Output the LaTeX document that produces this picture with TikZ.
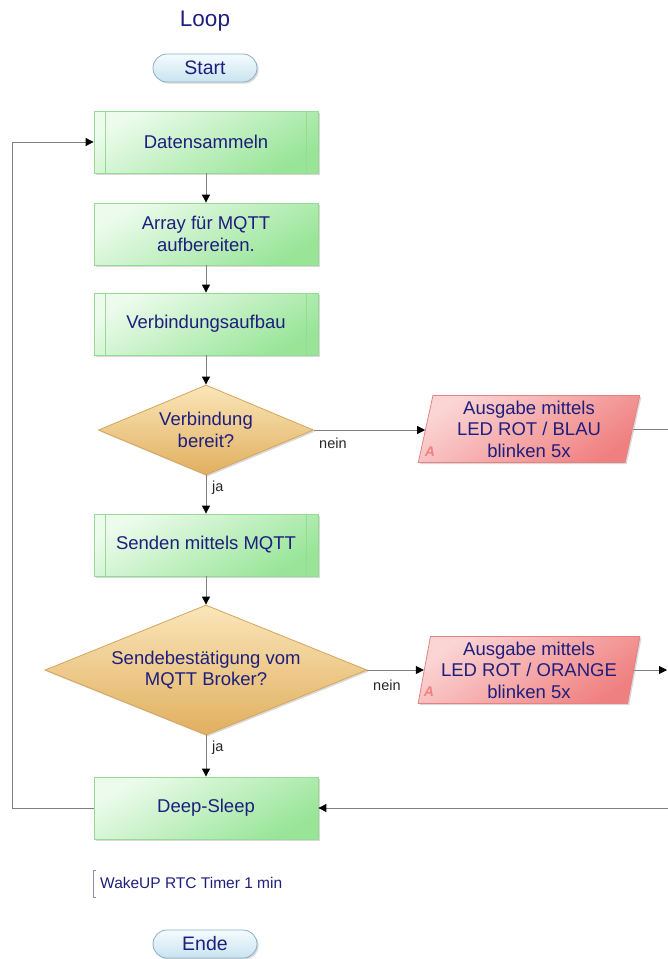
\documentclass[tikz,border=0pt]{standalone}
\usepackage{fontspec}
\setmainfont{Liberation Sans}
\usetikzlibrary{shapes.geometric,arrows.meta,shadows}

\definecolor{navy}{RGB}{30,30,125}
\definecolor{linegray}{RGB}{128,128,128}
\definecolor{procborder}{RGB}{150,218,150}
\definecolor{proclight}{RGB}{236,251,236}
\definecolor{procdark}{RGB}{152,229,152}
\definecolor{decborder}{RGB}{212,165,90}
\definecolor{declight}{RGB}{250,230,185}
\definecolor{decdark}{RGB}{225,175,95}
\definecolor{outborder}{RGB}{228,130,130}
\definecolor{outlight}{RGB}{251,212,212}
\definecolor{outdark}{RGB}{240,128,128}
\definecolor{termborder}{RGB}{140,175,200}
\definecolor{termlight}{RGB}{245,251,254}
\definecolor{termdark}{RGB}{200,228,240}
\definecolor{commentbar}{RGB}{140,140,175}

\tikzset{
  softshadow/.style={drop shadow={shadow xshift=1.6pt, shadow yshift=-1.6pt, opacity=0.25, fill=black!60}},
  boxtext/.style={text=navy, font=\fontsize{18.5}{21.5}\selectfont, align=center},
  procbox/.style={boxtext, rectangle, draw=procborder, line width=0.8pt,
    top color=proclight, bottom color=procdark, shading angle=30,
    minimum width=224pt, minimum height=62pt, inner sep=0pt, softshadow},
  decision/.style={boxtext, diamond, draw=decborder, line width=0.8pt,
    top color=declight, bottom color=decdark, inner sep=0pt, softshadow},
  outbox/.style={boxtext, trapezium, trapezium left angle=79, trapezium right angle=101,
    trapezium stretches=true, draw=outborder, line width=0.8pt,
    top color=outlight, bottom color=outdark, shading angle=35,
    minimum width=222pt, minimum height=67pt, inner sep=0pt, softshadow},
  terminal/.style={boxtext, font=\fontsize{19.5}{22}\selectfont, rectangle, rounded corners=14pt,
    draw=termborder, line width=0.8pt, top color=termlight, bottom color=termdark,
    minimum width=104pt, minimum height=28pt, inner sep=0pt, softshadow},
  flow/.style={draw=linegray, line width=0.9pt},
  arrowflow/.style={flow, -{Triangle[length=8pt,width=8pt,color=black]}},
  edgelabel/.style={text=black!85, font=\fontsize{14.5}{16}\selectfont, inner sep=0pt},
  marker/.style={text=outdark, font=\fontsize{14}{14}\selectfont\bfseries\itshape, inner sep=0pt},
}

\newcommand{\sidebars}[1]{%
  \draw[procborder, line width=0.8pt] ([xshift=12pt]#1.north west) -- ([xshift=12pt]#1.south west);
  \draw[procborder, line width=0.8pt] ([xshift=-12pt]#1.north east) -- ([xshift=-12pt]#1.south east);
}

\begin{document}
\begin{tikzpicture}[x=1pt, y=-1pt]
\useasboundingbox (0,0) rectangle (668,959);

% title and start terminal
\node[text=navy, font=\fontsize{22.5}{25}\selectfont, inner sep=0pt] (title) at (205,21) {Loop};
\node[terminal] (start) at (205,68) {Start};

% main sequence
\node[procbox] (collect) at (206,142) {Datensammeln};
\sidebars{collect}
\node[procbox] (prepare) at (206,234) {Array für MQTT\\aufbereiten.};
\node[procbox] (connect) at (206,324) {Verbindungsaufbau};
\sidebars{connect}
\node[decision, aspect=2.39, minimum width=215pt, minimum height=90pt] (ready) at (206,430) {Verbindung\\bereit?};
\node[procbox] (send) at (206,545) {Senden mittels MQTT};
\sidebars{send}
\node[decision, aspect=2.48, minimum width=322pt, minimum height=130pt] (ack) at (206,670) {Sendebestätigung vom\\MQTT Broker?};
\node[procbox] (sleep) at (206,808) {Deep-Sleep};

% error outputs
\node[outbox] (errblue) at (529,429) {Ausgabe mittels\\LED ROT / BLAU\\blinken 5x};
\node[marker] (errbluemark) at (430,452) {A};
\node[outbox] (errorange) at (529,670) {Ausgabe mittels\\LED ROT / ORANGE\\blinken 5x};
\node[marker] (errorangemark) at (429,692) {A};

% comment and end terminal
\node[text=navy, font=\fontsize{15.5}{18}\selectfont, anchor=west, inner sep=0pt] (wake) at (100,883) {WakeUP RTC Timer 1 min};
\draw[commentbar, line width=0.8pt] ([xshift=-4pt,yshift=13pt]wake.west) -- ++(-3,0) -- ++(0,27) -- ++(3,0);
\node[terminal] (ende) at (205,944) {Ende};

% connectors
\draw[arrowflow] (collect) -- (prepare);
\draw[arrowflow] (prepare) -- (connect);
\draw[arrowflow] (connect) -- (ready);
\draw[arrowflow] (ready) -- (send);
\draw[arrowflow] (send) -- (ack);
\draw[arrowflow] (ack) -- (sleep);
\draw[arrowflow] (ready.east) -- (errblue.west |- ready.east);
\draw[arrowflow] (ack.east) -- (errorange.west |- ack.east);

\coordinate (blueout) at (668,429);
\coordinate (orangeout) at (667,670);
\coordinate (sleepin) at (668,808);
\coordinate (loopcorner) at (12,808);
\draw[flow] (errblue.east |- blueout) -- (blueout);
\draw[arrowflow] (errorange.east |- orangeout) -- (orangeout);
\draw[arrowflow] (sleepin) -- (sleep.east);
\draw[arrowflow] (sleep.west) -- (loopcorner) |- (collect.west);

% branch labels
\node[edgelabel, anchor=west] (nein1) at (319,443) {nein};
\node[edgelabel, anchor=west] (nein2) at (373,685) {nein};
\node[edgelabel, anchor=west] (ja1) at (212,488) {ja};
\node[edgelabel, anchor=west] (ja2) at (212,748) {ja};
\end{tikzpicture}
\end{document}
